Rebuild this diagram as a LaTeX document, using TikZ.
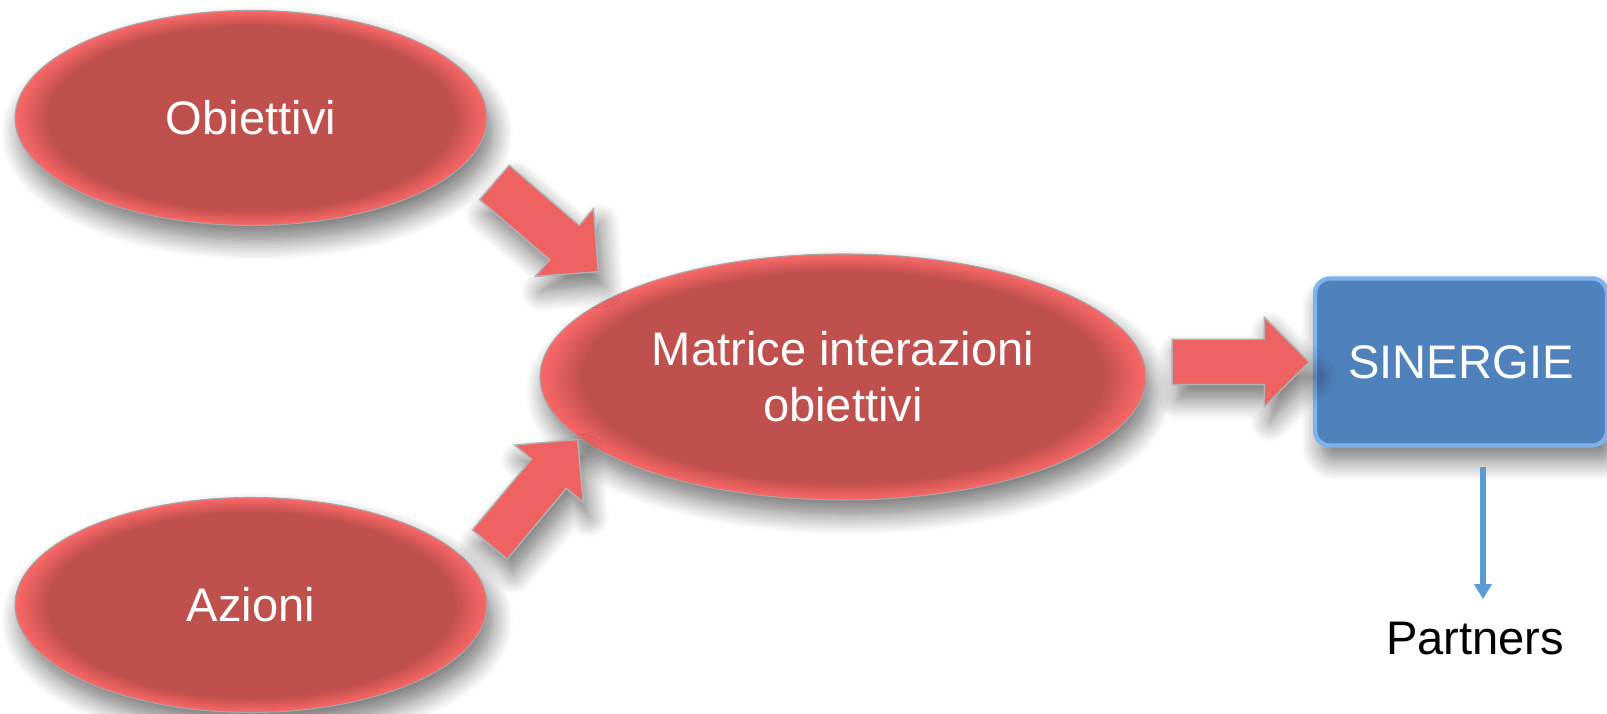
\documentclass[tikz,border=0pt]{standalone}
\usepackage{fontspec}
\setmainfont{Liberation Sans}
\usepackage{tikz}
\usetikzlibrary{shapes.geometric,shapes.arrows,shadows.blur,arrows.meta}
\definecolor{RossoOvale}{RGB}{192,80,77}
\definecolor{RossoBordo}{RGB}{250,104,104}
\definecolor{RossoFreccia}{RGB}{238,98,98}
\definecolor{BluScatola}{RGB}{79,129,189}
\definecolor{BluBordo}{RGB}{125,178,236}
\definecolor{BluLinea}{RGB}{91,155,213}
\pgfdeclareradialshading{SfumaRossa}{\pgfpoint{0bp}{0bp}}{color(0bp)=(RossoOvale); color(21.5bp)=(RossoOvale); color(25bp)=(RossoBordo); color(50bp)=(RossoBordo)}
\tikzset{
Testo/.style={
 font=\fontsize{13.4}{16}\selectfont
 },
Ombra/.style={
 blur shadow={shadow xshift=0.06cm, shadow yshift=-0.15cm, shadow blur radius=0.2cm, shadow blur steps=12, shadow opacity=55}
 },
Ovale/.style={
 ellipse,
 Ombra,
 Testo,
 shading=SfumaRossa,
 draw=gray!70,
 line width=0.3pt,
 text=white,
 align=center
 },
Scatola/.style={
 rectangle,
 Ombra,
 Testo,
 rounded corners=0.15cm,
 fill=BluScatola,
 draw=BluBordo,
 line width=1.2pt,
 text=white,
 minimum width=2.92cm,
 minimum height=1.67cm
 },
Freccia/.style={
 single arrow,
 Ombra,
 sloped,
 fill=RossoFreccia,
 draw=gray!60,
 line width=0.4pt,
 inner sep=0.22cm,
 single arrow head extend=0.22cm,
 single arrow tip angle=90,
 minimum height=1.37cm
 },
FrecciaBlu/.style={
 draw=BluLinea,
 line width=1.5pt,
 -{Triangle[width=0.17cm,length=0.15cm]}
 }
}
\begin{document}
\begin{tikzpicture}[thick]
\useasboundingbox (0,0) rectangle (16.07,7.14);
\node[Ovale, minimum width=4.72cm, minimum height=2.15cm] (obiettivi) at (2.51,5.96) {Obiettivi};
\node[Ovale, minimum width=4.72cm, minimum height=2.15cm] (azioni) at (2.51,1.09) {Azioni};
\node[Ovale, minimum width=6.06cm, minimum height=2.46cm] (matrice) at (8.43,3.37) {Matrice interazioni\\obiettivi};
\node[Scatola] (sinergie) at (14.61,3.52) {SINERGIE};
\node[Testo, inner sep=0pt] (partners) at (14.75,0.75) {Partners};
\path (obiettivi.-11.4) -- node[Freccia, pos=0.45] (fa) {} (matrice.159.6);
\path (azioni.10.5) -- node[Freccia, pos=0.51] (fb) {} (matrice.193.5);
\path (matrice.east |- sinergie.west) -- node[Freccia, pos=0.497] (fc) {} (sinergie.west);
\coordinate (p0) at ([xshift=0.22cm,yshift=-0.19cm]sinergie.south);
\draw[FrecciaBlu, shorten >=0.22cm] (p0) -- (p0 |- partners.north);
\end{tikzpicture}
\end{document}
